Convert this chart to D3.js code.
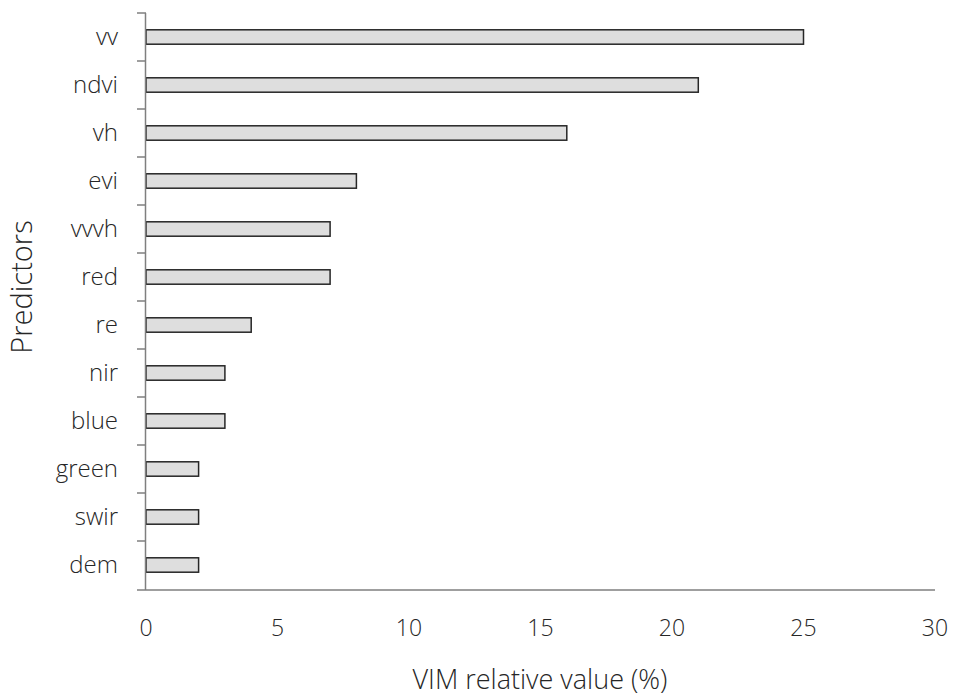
<!DOCTYPE html>
<html><head><meta charset="utf-8">
<script src="https://cdn.jsdelivr.net/npm/d3@7"></script>
<style>body{margin:0;background:#fff}svg{display:block}text{font-family:"Open Sans",sans-serif;font-weight:300;fill:#262626}</style>
</head><body>
<script>
const categories = ["vv","ndvi","vh","evi","vvvh","red","re","nir","blue","green","swir","dem"];
const values = [25,21,16,8,7,7,4,3,3,2,2,2];
const xTicks = [0,5,10,15,20,25,30];
const W=954,H=699;
const svg=d3.select("body").append("svg").attr("width",W).attr("height",H);
const x=d3.scaleLinear().domain([0,30]).range([146,935]);
const y=d3.scaleBand().domain(categories).range([13,589]).paddingInner(0.7).paddingOuter(0.35);
const yb=d3.scaleBand().domain(categories).range([13,589]);
svg.selectAll("rect.bar").data(categories).join("rect").attr("class","bar")
 .attr("x",x(0)).attr("y",d=>y(d)).attr("width",(d,i)=>x(values[i])-x(0)).attr("height",y.bandwidth())
 .attr("fill","#dedede").attr("stroke","#262626").attr("stroke-width",1.5);
const g=svg.append("g");
g.append("line").attr("x1",145.5).attr("x2",145.5).attr("y1",13).attr("y2",590).attr("stroke","#7f7f7f").attr("stroke-width",1.5);
const bounds=categories.map(c=>yb(c));
g.selectAll("line.t").data(bounds).join("line").attr("class","t").attr("x1",137).attr("x2",146).attr("y1",d=>d).attr("y2",d=>d).attr("stroke","#7f7f7f").attr("stroke-width",1.5);
g.selectAll("text.c").data(categories).join("text").attr("class","c").attr("x",118).attr("y",d=>yb(d)+yb.bandwidth()/2).attr("dy","0.35em").attr("text-anchor","end").attr("font-size",24).text(d=>d);
svg.append("line").attr("x1",137).attr("x2",935).attr("y1",590).attr("y2",590).attr("stroke","#7f7f7f").attr("stroke-width",1.5);
svg.selectAll("text.xt").data(xTicks).join("text").attr("class","xt").attr("x",d=>x(d)).attr("y",628).attr("dy","0.35em").attr("text-anchor","middle").attr("font-size",23).text(d=>d);
svg.append("text").attr("x",540).attr("y",689).attr("text-anchor","middle").attr("font-size",27).text("VIM relative value (%)");
svg.append("text").attr("transform","translate(32,287) rotate(-90)").attr("text-anchor","middle").attr("font-size",29).text("Predictors");
</script>
</body></html>
